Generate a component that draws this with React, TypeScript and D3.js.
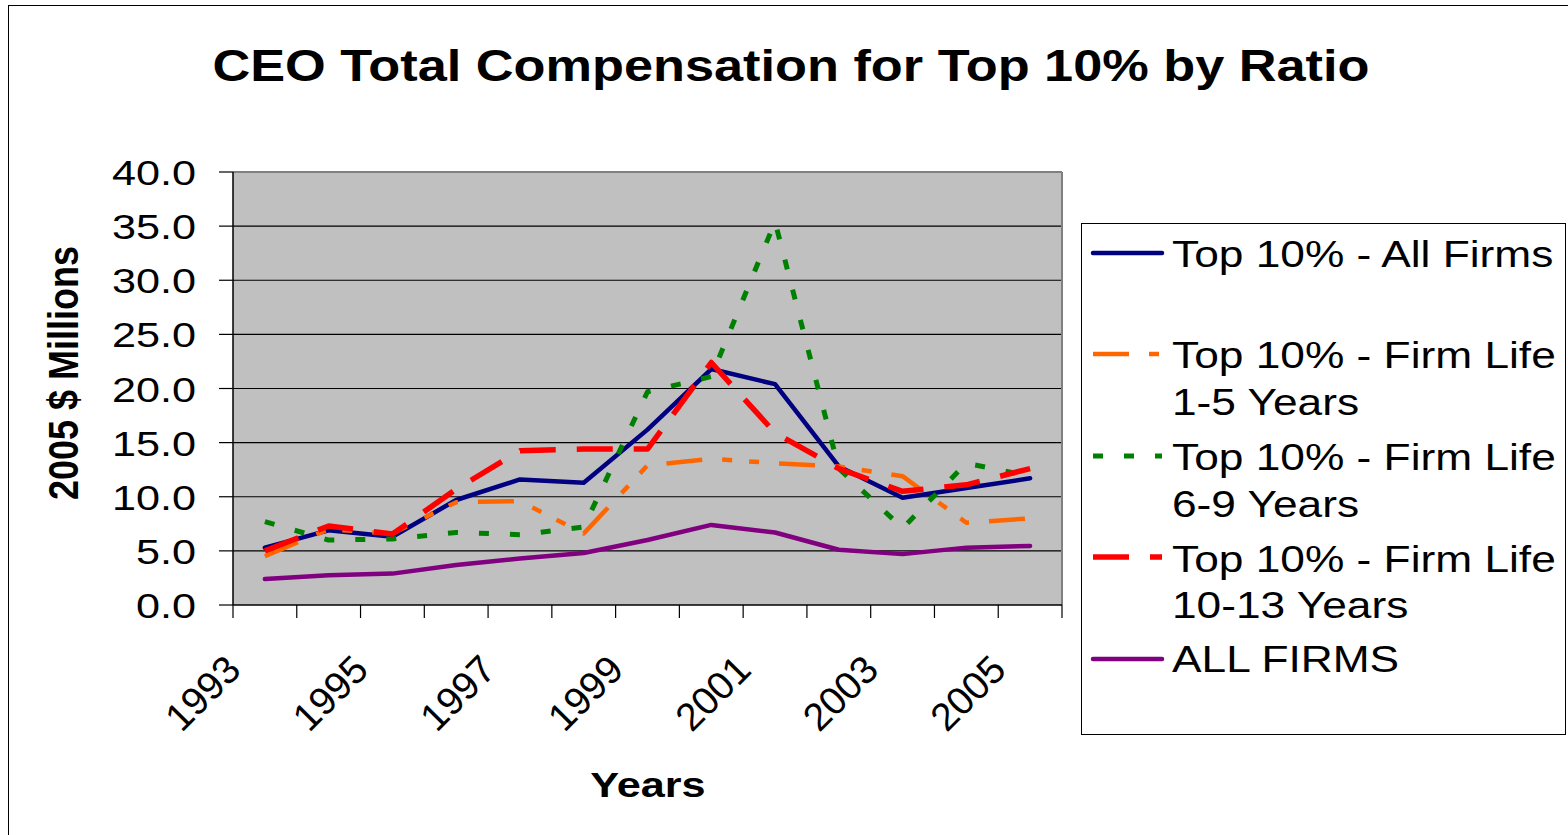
import React from "react";
import * as d3 from "d3";

const years = ["1993","1994","1995","1996","1997","1998","1999","2000","2001","2002","2003","2004","2005"];
const labeledYears = ["1993","1995","1997","1999","2001","2003","2005"];
const yTicks = [0, 5, 10, 15, 20, 25, 30, 35, 40];

const topAll = [5.3, 6.9, 6.3, 9.7, 11.6, 11.3, 16.2, 21.8, 20.4, 12.8, 9.9, 10.8, 11.7];
const life1to5 = [4.5, 7.0, 6.6, 9.5, 9.6, 6.6, 12.9, 13.5, 13.1, 12.8, 11.9, 7.6, 8.0];
const life6to9 = [7.7, 6.0, 6.1, 6.7, 6.5, 7.2, 19.7, 21.1, 35.4, 12.6, 7.1, 13.1, 11.9];
const life10to13 = [5.0, 7.3, 6.55, 10.7, 14.25, 14.4, 14.4, 22.4, 15.9, 12.6, 10.5, 11.1, 12.6];
const allFirms = [2.4, 2.75, 2.9, 3.7, 4.3, 4.8, 6.0, 7.4, 6.7, 5.1, 4.7, 5.3, 5.45];

const seriesNames = [
  ["Top 10% - All Firms"],
  ["Top 10% - Firm Life", "1-5 Years"],
  ["Top 10% - Firm Life", "6-9 Years"],
  ["Top 10% - Firm Life", "10-13 Years"],
  ["ALL FIRMS"],
];
const seriesValues = [topAll, life1to5, life6to9, life10to13, allFirms];
const seriesColors = ["#000080", "#FF6600", "#008000", "#FF0000", "#800080"];
const seriesDash = [null, "36 20 10 17 10 20", "10 21", "36 21", null];
const seriesWidth = [4.5, 4.5, 5, 5.5, 4.5];

const FONT = "Arial, 'Liberation Sans', Helvetica, sans-serif";
const SX = 1.2;

export default function App() {
  const W = 1568, H = 835;
  const left = 233, right = 1062, top = 172, bottom = 605;
  const x = d3.scaleBand<string>().domain(years).range([left, right]).padding(0);
  const cx = (yr: string) => (x(yr) as number) + x.bandwidth() / 2;
  const y = d3.scaleLinear().domain([0, 40]).range([bottom, top]);
  const line = d3.line<number>().x((_, i) => cx(years[i])).y((v) => y(v));

  const boundaries = years.map((yr) => x(yr) as number).concat([right]);

  const legendLineY = [253, 354, 456, 557, 659];
  const legendBase = [[267], [368, 415], [470, 517], [572, 618], [672]];

  return (
    <svg width={W} height={H} style={{ position: "absolute", left: 0, top: 0, background: "#fff" }}>
      <rect x={8.5} y={5.5} width={W} height={H} fill="#fff" stroke="#000" strokeWidth={1} />
      <text
        transform={`translate(791,81)`}
        textAnchor="middle"
        fontFamily={FONT}
        fontWeight="bold"
        fontSize={44}
        textLength={1157}
        lengthAdjust="spacingAndGlyphs"
      >
        CEO Total Compensation for Top 10% by Ratio
      </text>

      {/* plot area */}
      <rect x={left} y={top} width={right - left} height={bottom - top} fill="#C0C0C0" />
      {yTicks.filter((t) => t > 0 && t < 40).map((t) => (
        <line key={t} x1={left} x2={right} y1={y(t)} y2={y(t)} stroke="#000" strokeWidth={1.2} />
      ))}
      <line x1={left} x2={right} y1={top} y2={top} stroke="#808080" strokeWidth={2} />
      <line x1={right} x2={right} y1={top} y2={bottom} stroke="#808080" strokeWidth={2} />

      {/* series */}
      {seriesValues.map((vals, i) => (
        <path
          key={i}
          d={line(vals) || ""}
          fill="none"
          stroke={seriesColors[i]}
          strokeWidth={seriesWidth[i]}
          strokeDasharray={seriesDash[i] || undefined}
          strokeLinejoin="round"
          strokeLinecap={seriesDash[i] ? "butt" : "round"}
        />
      ))}

      {/* axes */}
      <line x1={left} x2={left} y1={top} y2={bottom} stroke="#000" strokeWidth={1.5} />
      <line x1={left} x2={right} y1={bottom} y2={bottom} stroke="#000" strokeWidth={1.5} />
      {yTicks.map((t) => (
        <g key={t}>
          <line x1={left - 14} x2={left} y1={y(t)} y2={y(t)} stroke="#000" strokeWidth={1.2} />
          <text
            transform={`translate(196,${y(t) + 13}) scale(${SX},1)`}
            textAnchor="end"
            fontFamily={FONT}
            fontSize={36}
          >
            {t.toFixed(1)}
          </text>
        </g>
      ))}
      {boundaries.map((bx, i) => (
        <line key={i} x1={bx} x2={bx} y1={bottom} y2={bottom + 13} stroke="#000" strokeWidth={1.2} />
      ))}
      {labeledYears.map((yr) => (
        <text
          key={yr}
          transform={`translate(${cx(yr) - 22},672) rotate(-45)`}
          textAnchor="end"
          fontFamily={FONT}
          fontSize={39}
        >
          {yr}
        </text>
      ))}

      {/* axis titles */}
      <text
        transform={`translate(648,797) scale(${SX},1)`}
        textAnchor="middle"
        fontFamily={FONT}
        fontWeight="bold"
        fontSize={36}
      >
        Years
      </text>
      <text
        transform={`translate(78,373) scale(${SX},1) rotate(-90)`}
        textAnchor="middle"
        fontFamily={FONT}
        fontWeight="bold"
        fontSize={36}
      >
        2005 $ Millions
      </text>

      {/* legend */}
      <rect x={1081.5} y={223.5} width={484} height={511} fill="#fff" stroke="#000" strokeWidth={1} />
      {seriesNames.map((lines, i) => (
        <g key={i}>
          <line
            x1={1093}
            x2={1162}
            y1={legendLineY[i]}
            y2={legendLineY[i]}
            stroke={seriesColors[i]}
            strokeWidth={seriesWidth[i]}
            strokeDasharray={seriesDash[i] || undefined}
            strokeLinecap={seriesDash[i] ? "butt" : "round"}
          />
          {lines.map((t, j) => (
            <text
              key={j}
              transform={`translate(1172,${legendBase[i][j]}) scale(1.23,1)`}
              fontFamily={FONT}
              fontSize={36}
            >
              {t}
            </text>
          ))}
        </g>
      ))}
    </svg>
  );
}
